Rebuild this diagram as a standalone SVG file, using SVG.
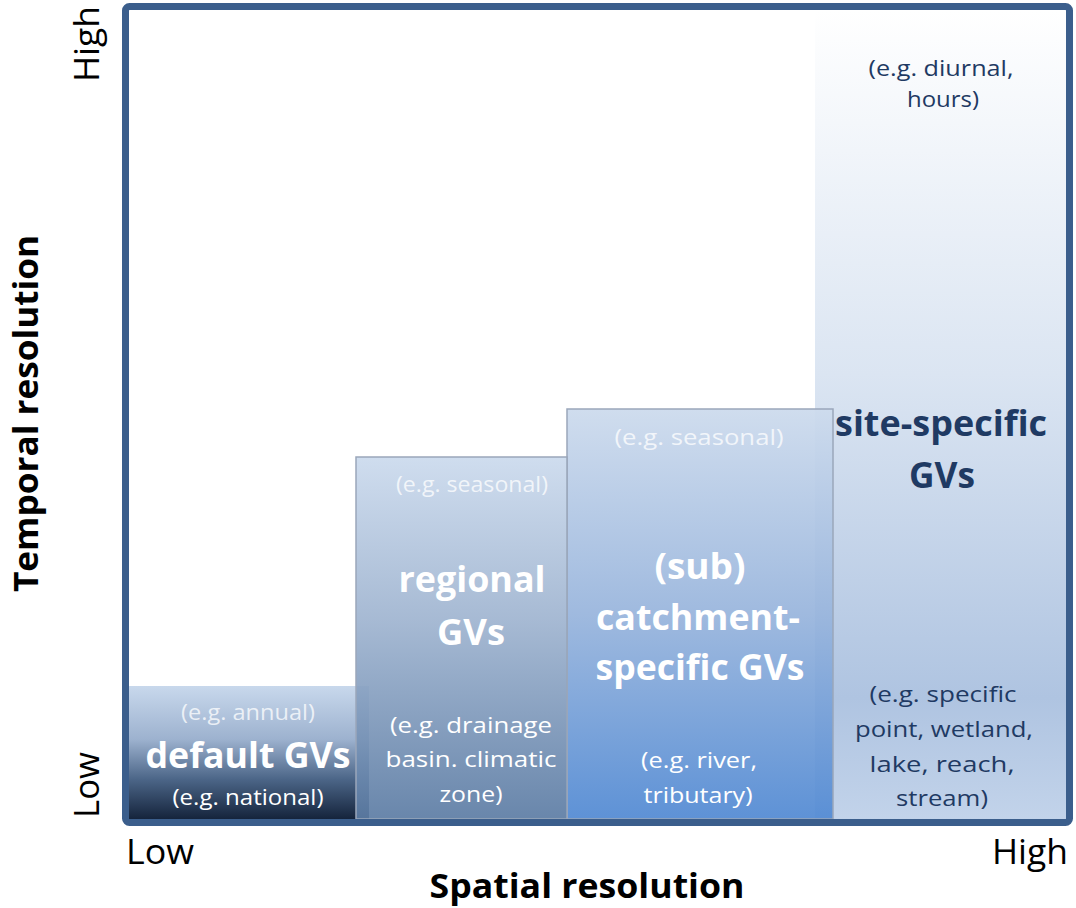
<svg xmlns="http://www.w3.org/2000/svg" width="1076" height="908" viewBox="0 0 1076 908">
  <defs>
    <linearGradient id="gDefault" x1="0" y1="0" x2="0" y2="1">
      <stop offset="0" stop-color="#c8d8ec"/>
      <stop offset="0.4" stop-color="#9db2cf"/>
      <stop offset="0.7" stop-color="#4c6688"/>
      <stop offset="1" stop-color="#15243c"/>
    </linearGradient>
    <linearGradient id="gRegional" x1="0" y1="0" x2="0" y2="1">
      <stop offset="0" stop-color="#cbdaed"/>
      <stop offset="0.45" stop-color="#9fb4d0"/>
      <stop offset="1" stop-color="#5c7ca4"/>
    </linearGradient>
    <linearGradient id="gCatchment" x1="0" y1="0" x2="0" y2="1">
      <stop offset="0" stop-color="#cddbed"/>
      <stop offset="0.5" stop-color="#9ab6dd"/>
      <stop offset="1" stop-color="#558cd4"/>
    </linearGradient>
    <linearGradient id="gSite" x1="0" y1="0" x2="0" y2="1">
      <stop offset="0" stop-color="#ffffff"/>
      <stop offset="0.45" stop-color="#dbe5f2"/>
      <stop offset="0.85" stop-color="#afc4e1"/>
      <stop offset="1" stop-color="#c2d3ea"/>
    </linearGradient>
  </defs>
  <style>
    .axis { font-family: "Open Sans", "Liberation Sans", sans-serif; fill: #000; }
    .axisTitle { font-family: "Open Sans", "Liberation Sans", sans-serif; font-weight: bold; fill: #000; }
    .note { font-family: "Open Sans", "Liberation Sans", sans-serif; font-size: 22px; text-anchor: middle; }
    .title { font-family: "Open Sans", "Liberation Sans", sans-serif; font-size: 35px; font-weight: bold; text-anchor: middle; }
    .light { fill: #ffffff; }
    .faint { fill: #ffffff; fill-opacity: 0.75; }
    .dark { fill: #1f3a63; }
    .boxEdge { stroke: #9aa7ba; stroke-width: 1.5; }
  </style>

  <!-- plot area background -->
  <rect x="126" y="7" width="943" height="816" fill="#ffffff"/>

  <!-- site-specific GVs column -->
  <g id="site-specific">
    <rect x="815" y="10" width="251" height="809" fill="url(#gSite)"/>
    <text class="note dark" x="941" y="76" textLength="145" lengthAdjust="spacingAndGlyphs">(e.g. diurnal,</text>
    <text class="note dark" x="943" y="107" textLength="72" lengthAdjust="spacingAndGlyphs">hours)</text>
    <text class="title dark" x="941" y="436" textLength="212" lengthAdjust="spacingAndGlyphs">site-specific</text>
    <text class="title dark" x="942" y="488" textLength="66" lengthAdjust="spacingAndGlyphs">GVs</text>
    <text class="note dark" x="943" y="702" textLength="147" lengthAdjust="spacingAndGlyphs">(e.g. specific</text>
    <text class="note dark" x="944" y="737" textLength="178" lengthAdjust="spacingAndGlyphs">point, wetland,</text>
    <text class="note dark" x="942" y="772" textLength="145" lengthAdjust="spacingAndGlyphs">lake, reach,</text>
    <text class="note dark" x="942" y="806" textLength="92" lengthAdjust="spacingAndGlyphs">stream)</text>
  </g>

  <!-- (sub) catchment-specific GVs column -->
  <g id="catchment-specific">
    <rect x="567" y="409" width="266" height="410" fill="url(#gCatchment)" fill-opacity="0.95" class="boxEdge"/>
    <text class="note faint" x="699" y="445" textLength="169" lengthAdjust="spacingAndGlyphs">(e.g. seasonal)</text>
    <text class="title light" x="700" y="579" textLength="91" lengthAdjust="spacingAndGlyphs">(sub)</text>
    <text class="title light" x="698" y="630" textLength="204" lengthAdjust="spacingAndGlyphs">catchment-</text>
    <text class="title light" x="700" y="680" textLength="209" lengthAdjust="spacingAndGlyphs">specific GVs</text>
    <text class="note light" x="699" y="768" textLength="116" lengthAdjust="spacingAndGlyphs">(e.g. river,</text>
    <text class="note light" x="698" y="803" textLength="109" lengthAdjust="spacingAndGlyphs">tributary)</text>
  </g>

  <!-- default GVs column -->
  <g id="default">
    <rect x="129" y="686" width="240" height="133" fill="url(#gDefault)"/>
    <text class="note faint" x="248" y="720" textLength="134" lengthAdjust="spacingAndGlyphs">(e.g. annual)</text>
    <text class="title light" x="248" y="768" textLength="205" lengthAdjust="spacingAndGlyphs">default GVs</text>
    <text class="note light" x="248" y="805" textLength="151" lengthAdjust="spacingAndGlyphs">(e.g. national)</text>
  </g>

  <!-- regional GVs column -->
  <g id="regional">
    <rect x="356" y="457" width="211" height="362" fill="url(#gRegional)" fill-opacity="0.92" class="boxEdge"/>
    <text class="note faint" x="472" y="492" textLength="152" lengthAdjust="spacingAndGlyphs">(e.g. seasonal)</text>
    <text class="title light" x="472" y="592" textLength="147" lengthAdjust="spacingAndGlyphs">regional</text>
    <text class="title light" x="471" y="645" textLength="68" lengthAdjust="spacingAndGlyphs">GVs</text>
    <text class="note light" x="471" y="733" textLength="162" lengthAdjust="spacingAndGlyphs">(e.g. drainage</text>
    <text class="note light" x="471" y="767" textLength="171" lengthAdjust="spacingAndGlyphs">basin. climatic</text>
    <text class="note light" x="471" y="802" textLength="63" lengthAdjust="spacingAndGlyphs">zone)</text>
  </g>

  <!-- plot frame -->
  <rect x="125.5" y="6.5" width="944" height="816" rx="4" fill="none" stroke="#3b5e8c" stroke-width="7"/>

  <!-- axes -->
  <g id="axes">
    <text class="axis" font-size="34" x="126" y="864" textLength="68" lengthAdjust="spacingAndGlyphs">Low</text>
    <text class="axis" font-size="34" x="992" y="864" textLength="76" lengthAdjust="spacingAndGlyphs">High</text>
    <text class="axisTitle" font-size="34" x="587" y="898" text-anchor="middle" textLength="315" lengthAdjust="spacingAndGlyphs">Spatial resolution</text>
    <text class="axis" font-size="34" transform="translate(99 818) rotate(-90)" textLength="66" lengthAdjust="spacingAndGlyphs">Low</text>
    <text class="axis" font-size="34" transform="translate(99 82) rotate(-90)" textLength="76" lengthAdjust="spacingAndGlyphs">High</text>
    <text class="axisTitle" font-size="34" transform="translate(38 592) rotate(-90)" textLength="357" lengthAdjust="spacingAndGlyphs">Temporal resolution</text>
  </g>
</svg>
